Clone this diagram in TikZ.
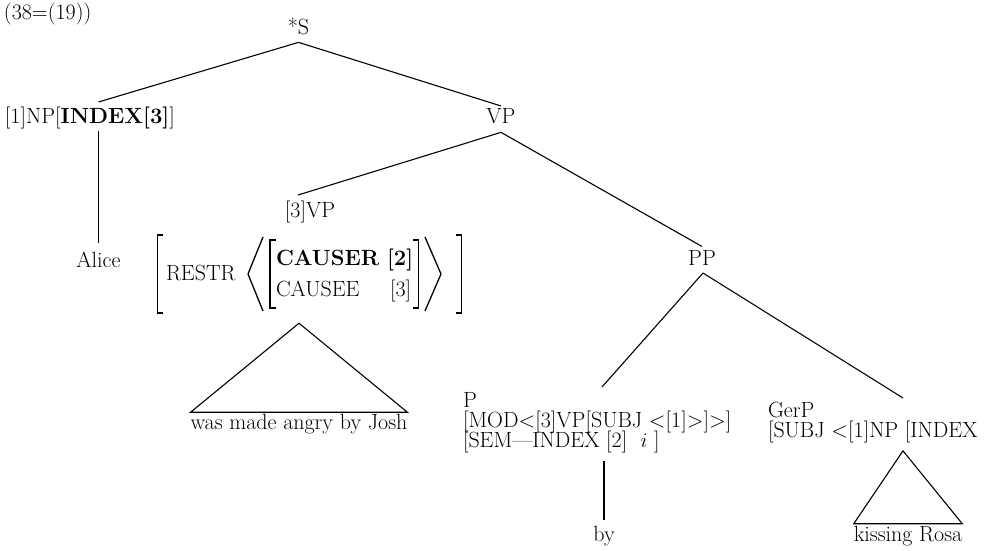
\documentclass[tikz,border=0pt]{standalone}
\usetikzlibrary{calc}
\newcommand\tightlines{\lineskiplimit=-100pt\relax}
\begin{document}
\begin{tikzpicture}[x=1pt,y=-1pt,
  every node/.style={inner sep=0pt, outer sep=0pt,
    font={\fontsize{22}{20}\selectfont\tightlines}},
  branch/.style={line width=1.1pt},
  delim/.style={line width=1.7pt},
  ang/.style={line width=1.3pt},
  lab/.style={anchor=base},
  labl/.style={anchor=base west}]
\useasboundingbox (0,0) rectangle (994,551);
\fill[white] (0,0) rectangle (994,551);
\clip (0,0) rectangle (994,551);

% example number
\node[labl] (ex) at (4,20) {(38=(19))};

% upper part of the tree
\node[lab] (S) at (298.5,35) {*S};
\node[labl] (NP) at (5,124) {[1]NP[\textbf{INDEX[3]}]};
\node[lab] (VP) at (501,124) {VP};
\node[lab] (alice) at (98.5,267) {Alice};
\node[lab] (VPt) at (310,217) {[3]VP};
\node[lab] (PP) at (702,265) {PP};

\draw[branch] ($(S.south)+(0,7)$) -- ($(alice.north |- NP.north)+(0,-5.5)$);
\draw[branch] ($(S.south)+(0,7)$) -- ($(VP.north)+(0,-3)$);
\draw[branch] ($(alice.north |- NP.south)+(0,1)$) -- ($(alice.north)+(0,-8.7)$);
\draw[branch] ($(VP.south)+(0,8)$) -- ($(VPt.north)+(-12,-5.5)$);
\draw[branch] ($(VP.south)+(0,8)$) -- ($(PP.north)+(0,-3.5)$);

% feature structure under [3]VP
\node[labl] (restr) at (166,280) {RESTR};
\node[labl] (causer) at (276,265) {\textbf{CAUSER}};
\node[labl] (ix2) at (387,265) {\textbf{[2]}};
\node[labl] (causee) at (276,296) {CAUSEE};
\node[labl] (ix3) at (390,296) {[3]};
\draw[delim] (163,235) -- (157.5,235) -- (157.5,313) -- (163,313);
\draw[ang] (263,237) -- (248,274) -- (263,311);
\draw[delim] (275.5,240) -- (270,240) -- (270,308) -- (275.5,308);
\draw[delim] (413,240) -- (418.5,240) -- (418.5,308) -- (413,308);
\draw[ang] (425,237) -- (441,274) -- (425,311);
\draw[delim] (456,235) -- (461.5,235) -- (461.5,313) -- (456,313);

% roof over the passive phrase
\node[lab] (wma) at (299,429.5) {was made angry by Josh};
\draw[branch] ($(wma.north)+(0,-91)$) -- ($(wma.north west)+(0,-2)$)
  -- ($(wma.north east)+(0,-2)$) -- cycle;

% the PP adjunct
\node[anchor=north west, align=left] (P) at (463,392)
  {P\\{}[MOD<[3]VP[SUBJ <[1]>]>]\\{}[SEM---INDEX [2]~~$i$ ]};
\node[anchor=north west, align=left] (GerP) at (768,402)
  {GerP\\{}[SUBJ <[1]NP [INDEX};

\draw[branch] ($(PP.south)+(1,8)$) -- ($(P.north west)+(139,-5)$);
\draw[branch] ($(PP.south)+(1,8)$) -- ($(GerP.north west)+(135,-4)$);

\node[lab] (by) at (604,541) {by};
\draw[branch] ($(by.north |- P.south)+(0,8)$) -- ($(by.north)+(0,-6)$);

\node[lab] (kr) at (908,541) {kissing Rosa};
\draw[branch] ($(GerP.south west)+(135,8)$) -- ($(kr.north west)+(0,-2)$)
  -- ($(kr.north east)+(0,-2)$) -- cycle;
\end{tikzpicture}
\end{document}
